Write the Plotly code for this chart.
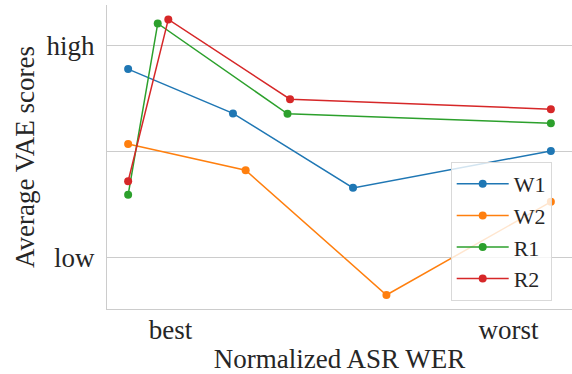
import plotly.graph_objects as go

series_names = ["W1", "W2", "R1", "R2"]
colors = ["#1f77b4", "#ff7f0e", "#2ca02c", "#d62728"]

w1_x = [0.0, 0.248, 0.532, 1.0]
w1_y = [0.887, 0.678, 0.327, 0.501]
w2_x = [0.0, 0.278, 0.611, 1.0]
w2_y = [0.534, 0.410, -0.178, 0.261]
r1_x = [0.0, 0.070, 0.377, 1.0]
r1_y = [0.294, 1.102, 0.676, 0.632]
r2_x = [0.0, 0.095, 0.383, 1.0]
r2_y = [0.358, 1.121, 0.745, 0.698]

x_tickvals = [0.1, 0.9]
x_ticktext = ["best", "worst"]
y_tickvals = [0.0, 0.5, 1.0]
y_ticktext = ["low", "", "high"]

xs = [w1_x, w2_x, r1_x, r2_x]
ys = [w1_y, w2_y, r1_y, r2_y]

FONT = "Liberation Serif"

fig = go.Figure()
for name, c, x, y in zip(series_names, colors, xs, ys):
    fig.add_trace(go.Scatter(
        x=x, y=y, name=name, mode="lines+markers",
        line=dict(color=c, width=1.5),
        marker=dict(color=c, size=8),
    ))

fig.update_layout(
    width=572, height=374,
    margin=dict(l=107, r=0, t=5, b=65),
    paper_bgcolor="white", plot_bgcolor="white",
    font=dict(family=FONT, size=27, color="#262626"),
    showlegend=True,
    legend=dict(
        x=(450.7 - 107) / 465, y=(309 - 162) / 304, xanchor="left", yanchor="top",
        bgcolor="rgba(255,255,255,0.8)", bordercolor="#d9d9d9", borderwidth=1,
        font=dict(family=FONT, size=22, color="#262626"),
        itemwidth=52,
    ),
    xaxis=dict(
        range=[-0.05, 1.05], tickvals=x_tickvals, ticktext=x_ticktext,
        showgrid=False, zeroline=False, showline=True, linecolor="#cccccc", linewidth=1.25,
        ticks="", ticklabelstandoff=-4, automargin=False,
        title=dict(text="Normalized ASR WER", standoff=22, font=dict(family=FONT, size=27)),
        tickfont=dict(family=FONT, size=27),
    ),
    yaxis=dict(
        range=[-0.244, 1.189], tickvals=y_tickvals, ticktext=y_ticktext,
        showgrid=True, gridcolor="#cccccc", gridwidth=1, zeroline=False,
        showline=True, linecolor="#cccccc", linewidth=1.25,
        ticks="", ticklabelstandoff=6, automargin=False,
        title=dict(text="Average VAE scores", standoff=4, font=dict(family=FONT, size=27)),
        tickfont=dict(family=FONT, size=27),
    ),
)

fig.write_html(
    "out.html",
    config={"displayModeBar": False},
    post_script="document.body.style.margin='0px';document.body.style.overflow='hidden';",
)
